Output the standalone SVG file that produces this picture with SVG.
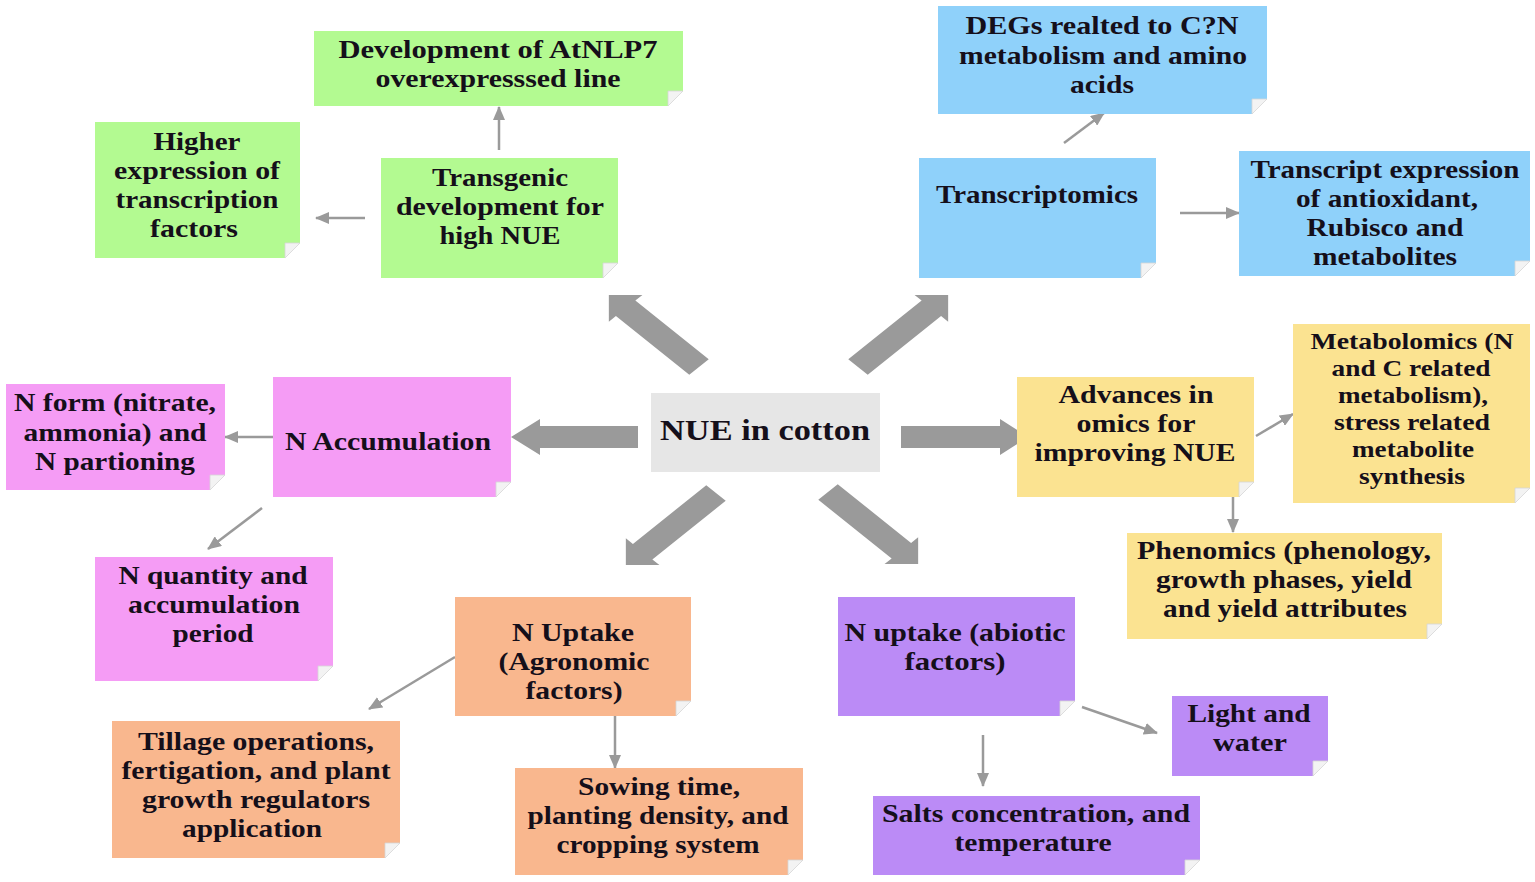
<svg xmlns="http://www.w3.org/2000/svg" width="1535" height="882" viewBox="0 0 1535 882">
<style>
  .t{font-family:"Liberation Serif","Times New Roman",serif;font-weight:bold;font-size:25px;fill:#150f1a;text-anchor:middle}
  .s{font-size:22.5px}
  .c{font-size:29px}
  .flap{fill:#f3f3f3;stroke:#d6d6d6;stroke-width:0.8}
  .green{fill:#b3fa91}.blue{fill:#8fd1fa}.pink{fill:#f59cf5}.yellow{fill:#fbe391}.orange{fill:#f9b78e}.purple{fill:#bb8bf6}
  .big{fill:#9a9a9a}
  .thin{stroke:#9a9a9a;stroke-width:2.5;fill:none;marker-end:url(#ah)}
</style>
<defs>
  <marker id="ah" viewBox="0 0 14 12" refX="13" refY="6" markerWidth="14" markerHeight="12" markerUnits="userSpaceOnUse" orient="auto">
    <path d="M0,0 L14,6 L0,12 z" fill="#9a9a9a"/>
  </marker>
  <polygon id="diag" points="0,-11 83,-11 83,-19 102,0 83,19 83,11 0,11"/>
</defs>
<rect width="1535" height="882" fill="#ffffff"/>

<g id="connectors">
  <use href="#diag" class="big" transform="translate(699,367) scale(1.25,1) rotate(225)"/>
  <use href="#diag" class="big" transform="translate(858,367) scale(1.25,1) rotate(-45)"/>
  <use href="#diag" class="big" transform="translate(716,493) scale(1.25,1) rotate(135)"/>
  <use href="#diag" class="big" transform="translate(828,492) scale(1.25,1) rotate(45)"/>
  <polygon class="big" points="638,426 540,426 540,419 511,437 540,455 540,448 638,448"/>
  <polygon class="big" points="901,426 1000,426 1000,419 1028,437 1000,455 1000,448 901,448"/>
  <line class="thin" x1="499" y1="150" x2="499" y2="107"/>
  <line class="thin" x1="365" y1="218" x2="316" y2="218"/>
  <line class="thin" x1="1064" y1="143" x2="1104" y2="113"/>
  <line class="thin" x1="1180" y1="213" x2="1239" y2="213"/>
  <line class="thin" x1="273" y1="437" x2="225" y2="437"/>
  <line class="thin" x1="262" y1="508" x2="208" y2="549"/>
  <line class="thin" x1="1256" y1="436" x2="1293" y2="414"/>
  <line class="thin" x1="1233" y1="497" x2="1233" y2="532"/>
  <line class="thin" x1="455" y1="657" x2="369" y2="709"/>
  <line class="thin" x1="615" y1="716" x2="615" y2="768"/>
  <line class="thin" x1="983" y1="735" x2="983" y2="786"/>
  <line class="thin" x1="1082" y1="707" x2="1157" y2="733"/>
</g>

<g id="center">
  <rect x="651" y="393" width="229" height="79" fill="#e6e6e6"/>
  <text class="t c" x="765" y="440" textLength="210" lengthAdjust="spacingAndGlyphs">NUE in cotton</text>
</g>

<g id="g1">
  <path class="green" d="M314,31 H683 V91 L668,91 L668,106 H314 Z"/>
  <path class="flap" d="M683,91 L668,91 L668,106 Z"/>
  <text class="t" x="498" y="58" textLength="319" lengthAdjust="spacingAndGlyphs">Development of AtNLP7</text>
  <text class="t" x="498" y="87" textLength="245" lengthAdjust="spacingAndGlyphs">overexpresssed line</text>
</g>
<g id="g2">
  <path class="green" d="M95,122 H300 V243 L285,243 L285,258 H95 Z"/>
  <path class="flap" d="M300,243 L285,243 L285,258 Z"/>
  <text class="t" x="197" y="150" textLength="87" lengthAdjust="spacingAndGlyphs">Higher</text>
  <text class="t" x="197" y="179" textLength="166" lengthAdjust="spacingAndGlyphs">expression of</text>
  <text class="t" x="197" y="208" textLength="163" lengthAdjust="spacingAndGlyphs">transcription</text>
  <text class="t" x="194" y="237" textLength="88" lengthAdjust="spacingAndGlyphs">factors</text>
</g>
<g id="g3">
  <path class="green" d="M381,158 H618 V263 L603,263 L603,278 H381 Z"/>
  <path class="flap" d="M618,263 L603,263 L603,278 Z"/>
  <text class="t" x="500" y="186" textLength="136" lengthAdjust="spacingAndGlyphs">Transgenic</text>
  <text class="t" x="500" y="215" textLength="208" lengthAdjust="spacingAndGlyphs">development for</text>
  <text class="t" x="500" y="244" textLength="121" lengthAdjust="spacingAndGlyphs">high NUE</text>
</g>

<g id="b1">
  <path class="blue" d="M938,6 H1267 V99 L1252,99 L1252,114 H938 Z"/>
  <path class="flap" d="M1267,99 L1252,99 L1252,114 Z"/>
  <text class="t" x="1102" y="34" textLength="273" lengthAdjust="spacingAndGlyphs">DEGs realted to C?N</text>
  <text class="t" x="1103" y="64" textLength="288" lengthAdjust="spacingAndGlyphs">metabolism and amino</text>
  <text class="t" x="1102" y="93" textLength="64" lengthAdjust="spacingAndGlyphs">acids</text>
</g>
<g id="b2">
  <path class="blue" d="M919,158 H1156 V263 L1141,263 L1141,278 H919 Z"/>
  <path class="flap" d="M1156,263 L1141,263 L1141,278 Z"/>
  <text class="t" x="1037" y="203" textLength="202" lengthAdjust="spacingAndGlyphs">Transcriptomics</text>
</g>
<g id="b3">
  <path class="blue" d="M1239,151 H1530 V261 L1515,261 L1515,276 H1239 Z"/>
  <path class="flap" d="M1530,261 L1515,261 L1515,276 Z"/>
  <text class="t" x="1385" y="178" textLength="269" lengthAdjust="spacingAndGlyphs">Transcript expression</text>
  <text class="t" x="1387" y="207" textLength="182" lengthAdjust="spacingAndGlyphs">of antioxidant,</text>
  <text class="t" x="1385" y="236" textLength="157" lengthAdjust="spacingAndGlyphs">Rubisco and</text>
  <text class="t" x="1385" y="265" textLength="144" lengthAdjust="spacingAndGlyphs">metabolites</text>
</g>

<g id="p1">
  <path class="pink" d="M273,377 H511 V482 L496,482 L496,497 H273 Z"/>
  <path class="flap" d="M511,482 L496,482 L496,497 Z"/>
  <text class="t" x="388" y="450" textLength="206" lengthAdjust="spacingAndGlyphs">N Accumulation</text>
</g>
<g id="p2">
  <path class="pink" d="M6,384 H225 V475 L210,475 L210,490 H6 Z"/>
  <path class="flap" d="M225,475 L210,475 L210,490 Z"/>
  <text class="t" x="115" y="411" textLength="202" lengthAdjust="spacingAndGlyphs">N form (nitrate,</text>
  <text class="t" x="115" y="441" textLength="183" lengthAdjust="spacingAndGlyphs">ammonia) and</text>
  <text class="t" x="115" y="470" textLength="160" lengthAdjust="spacingAndGlyphs">N partioning</text>
</g>
<g id="p3">
  <path class="pink" d="M95,557 H333 V666 L318,666 L318,681 H95 Z"/>
  <path class="flap" d="M333,666 L318,666 L318,681 Z"/>
  <text class="t" x="213" y="584" textLength="189" lengthAdjust="spacingAndGlyphs">N quantity and</text>
  <text class="t" x="214" y="613" textLength="172" lengthAdjust="spacingAndGlyphs">accumulation</text>
  <text class="t" x="213" y="642" textLength="81" lengthAdjust="spacingAndGlyphs">period</text>
</g>

<g id="y1">
  <path class="yellow" d="M1017,377 H1254 V482 L1239,482 L1239,497 H1017 Z"/>
  <path class="flap" d="M1254,482 L1239,482 L1239,497 Z"/>
  <text class="t" x="1136" y="403" textLength="155" lengthAdjust="spacingAndGlyphs">Advances in</text>
  <text class="t" x="1136" y="432" textLength="119" lengthAdjust="spacingAndGlyphs">omics for</text>
  <text class="t" x="1135" y="461" textLength="201" lengthAdjust="spacingAndGlyphs">improving NUE</text>
</g>
<g id="y2">
  <path class="yellow" d="M1293,324 H1530 V488 L1515,488 L1515,503 H1293 Z"/>
  <path class="flap" d="M1530,488 L1515,488 L1515,503 Z"/>
  <text class="t s" x="1412" y="349" textLength="203" lengthAdjust="spacingAndGlyphs">Metabolomics (N</text>
  <text class="t s" x="1411" y="376" textLength="159" lengthAdjust="spacingAndGlyphs">and C related</text>
  <text class="t s" x="1413" y="403" textLength="150" lengthAdjust="spacingAndGlyphs">metabolism),</text>
  <text class="t s" x="1412" y="430" textLength="156" lengthAdjust="spacingAndGlyphs">stress related</text>
  <text class="t s" x="1413" y="457" textLength="122" lengthAdjust="spacingAndGlyphs">metabolite</text>
  <text class="t s" x="1412" y="484" textLength="106" lengthAdjust="spacingAndGlyphs">synthesis</text>
</g>
<g id="y3">
  <path class="yellow" d="M1127,533 H1442 V624 L1427,624 L1427,639 H1127 Z"/>
  <path class="flap" d="M1442,624 L1427,624 L1427,639 Z"/>
  <text class="t" x="1284" y="559" textLength="294" lengthAdjust="spacingAndGlyphs">Phenomics (phenology,</text>
  <text class="t" x="1284" y="588" textLength="256" lengthAdjust="spacingAndGlyphs">growth phases, yield</text>
  <text class="t" x="1285" y="617" textLength="244" lengthAdjust="spacingAndGlyphs">and yield attributes</text>
</g>

<g id="o1">
  <path class="orange" d="M455,597 H691 V701 L676,701 L676,716 H455 Z"/>
  <path class="flap" d="M691,701 L676,701 L676,716 Z"/>
  <text class="t" x="573" y="641" textLength="122" lengthAdjust="spacingAndGlyphs">N Uptake</text>
  <text class="t" x="574" y="670" textLength="151" lengthAdjust="spacingAndGlyphs">(Agronomic</text>
  <text class="t" x="574" y="699" textLength="97" lengthAdjust="spacingAndGlyphs">factors)</text>
</g>
<g id="o2">
  <path class="orange" d="M112,721 H400 V843 L385,843 L385,858 H112 Z"/>
  <path class="flap" d="M400,843 L385,843 L385,858 Z"/>
  <text class="t" x="256" y="750" textLength="236" lengthAdjust="spacingAndGlyphs">Tillage operations,</text>
  <text class="t" x="256" y="779" textLength="269" lengthAdjust="spacingAndGlyphs">fertigation, and plant</text>
  <text class="t" x="256" y="808" textLength="228" lengthAdjust="spacingAndGlyphs">growth regulators</text>
  <text class="t" x="252" y="837" textLength="140" lengthAdjust="spacingAndGlyphs">application</text>
</g>
<g id="o3">
  <path class="orange" d="M515,768 H803 V860 L788,860 L788,875 H515 Z"/>
  <path class="flap" d="M803,860 L788,860 L788,875 Z"/>
  <text class="t" x="659" y="795" textLength="162" lengthAdjust="spacingAndGlyphs">Sowing time,</text>
  <text class="t" x="658" y="824" textLength="261" lengthAdjust="spacingAndGlyphs">planting density, and</text>
  <text class="t" x="658" y="853" textLength="203" lengthAdjust="spacingAndGlyphs">cropping system</text>
</g>

<g id="u1">
  <path class="purple" d="M838,597 H1075 V701 L1060,701 L1060,716 H838 Z"/>
  <path class="flap" d="M1075,701 L1060,701 L1060,716 Z"/>
  <text class="t" x="955" y="641" textLength="221" lengthAdjust="spacingAndGlyphs">N uptake (abiotic</text>
  <text class="t" x="955" y="670" textLength="101" lengthAdjust="spacingAndGlyphs">factors)</text>
</g>
<g id="u2">
  <path class="purple" d="M1172,696 H1328 V761 L1313,761 L1313,776 H1172 Z"/>
  <path class="flap" d="M1328,761 L1313,761 L1313,776 Z"/>
  <text class="t" x="1249" y="722" textLength="123" lengthAdjust="spacingAndGlyphs">Light and</text>
  <text class="t" x="1250" y="751" textLength="74" lengthAdjust="spacingAndGlyphs">water</text>
</g>
<g id="u3">
  <path class="purple" d="M873,796 H1200 V860 L1185,860 L1185,875 H873 Z"/>
  <path class="flap" d="M1200,860 L1185,860 L1185,875 Z"/>
  <text class="t" x="1036" y="822" textLength="308" lengthAdjust="spacingAndGlyphs">Salts concentration, and</text>
  <text class="t" x="1033" y="851" textLength="157" lengthAdjust="spacingAndGlyphs">temperature</text>
</g>
</svg>
